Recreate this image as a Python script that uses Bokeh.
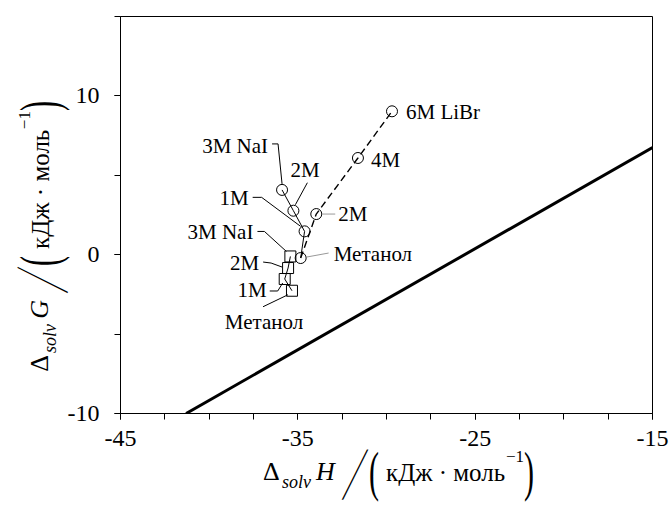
import numpy as np
from bokeh.plotting import figure
from bokeh.models import Label, FixedTicker, Range1d, Div
from bokeh.layouts import row, column
from bokeh.embed import file_html
from bokeh.resources import INLINE

# Solvation enthalpy (x) and Gibbs energy (y), kJ/mol
libr_names = ["Метанол", "2M", "4M", "6M LiBr"]
libr_dH = [-34.84, -33.96, -31.61, -29.69]
libr_dG = [-0.21, 2.56, 6.09, 9.03]

nai_names = ["Метанол", "1M", "2M", "3M NaI"]
nai_dH = [-34.84, -34.62, -35.25, -35.89]
nai_dG = [-0.21, 1.47, 2.77, 4.08]

sq_names = ["Метанол", "1M", "2M", "3M NaI"]
sq_dH = [-35.33, -35.74, -35.55, -35.42]
sq_dG = [-2.27, -1.53, -0.84, -0.11]

ref_dH = [-41.3, -15.0]
ref_dG = [-10.0, 6.75]

x_ticks = [-45, -35, -25, -15]
y_ticks = [-10, 0, 10]

XMIN, XMAX, YMIN, YMAX = -45, -15, -10, 15
W, H = 670, 506
L, T, FW, FH = 119, 16, 533, 397
YDIV_W = 64
P_W = W - YDIV_W
P_H = 461

SERIF = "Liberation Serif"

p = figure(width=P_W, height=P_H, output_backend="svg", toolbar_location=None,
           x_range=Range1d(XMIN, XMAX), y_range=Range1d(YMIN, YMAX),
           min_border_left=L - YDIV_W, min_border_right=P_W - (L - YDIV_W) - FW,
           min_border_top=T, min_border_bottom=P_H - T - FH, margin=0)
p.background_fill_color = "white"
p.border_fill_color = "white"
p.border_fill_alpha = 0
p.outline_line_color = "black"
p.outline_line_width = 1
p.grid.visible = False

p.xaxis.ticker = FixedTicker(ticks=x_ticks, minor_ticks=list(np.arange(-45, -14.9, 2.5)))
p.yaxis.ticker = FixedTicker(ticks=y_ticks, minor_ticks=[-10, -5, 0, 5, 10, 15])
p.xaxis.major_label_overrides = {t: str(t) for t in x_ticks}
p.yaxis.major_label_overrides = {t: str(t) for t in y_ticks}
for ax in (p.xaxis, p.yaxis):
    ax.major_tick_in = 0
    ax.major_tick_out = 6
    ax.minor_tick_in = 0
    ax.minor_tick_out = 6
    ax.axis_line_color = "black"
    ax.major_tick_line_color = "black"
    ax.minor_tick_line_color = "black"
    ax.major_label_text_font = SERIF
    ax.major_label_text_font_size = "24px"
    ax.major_label_text_color = "black"
p.xaxis.major_label_standoff = 11
p.yaxis.major_label_standoff = 15


def shift(x, y, ox, oy):
    return x + ox * (XMAX - XMIN) / FW, y - oy * (YMAX - YMIN) / FH


# reference line
p.line(ref_dH, ref_dG, line_color="black", line_width=3)

# LiBr series
p.line(libr_dH, libr_dG, line_color="black", line_width=1.4, line_dash="7 4")
# NaI series (circles)
p.line(nai_dH, nai_dG, line_color="black", line_width=1)
# square series
p.line(sq_dH, sq_dG, line_color="black", line_width=1)

p.scatter(libr_dH, libr_dG, marker="circle", size=11, fill_color="white",
          fill_alpha=0, line_color="black", line_width=1)
p.scatter(nai_dH[1:], nai_dG[1:], marker="circle", size=11, fill_color="white",
          fill_alpha=0, line_color="black", line_width=1)
p.scatter(sq_dH, sq_dG, marker="square", size=11, fill_color="white",
          fill_alpha=0, line_color="black", line_width=1)

# point annotations: (x, y, text, text offset px, align, leader offsets px, leader colour)
notes = [
    (nai_dH[3], nai_dG[3], nai_names[3], (-14, -44), "right",
     [(-10, -46), (-4, -46), (0, -6)], "black"),
    (nai_dH[2], nai_dG[2], nai_names[2], (-3, -41), "left",
     [(14, -28), (2, -6)], "black"),
    (nai_dH[1], nai_dG[1], nai_names[1], (-56, -33), "right",
     [(-52, -34), (-43, -34), (-4, -5)], "black"),
    (sq_dH[3], sq_dG[3], sq_names[3], (-37, -24), "right",
     [(-33, -25), (-26, -25), (-4, -5)], "black"),
    (sq_dH[2], sq_dG[2], sq_names[2], (-29, -5), "right",
     [(-25, -6), (-17, -5), (-6, -1)], "black"),
    (sq_dH[1], sq_dG[1], sq_names[1], (-18, 11), "right",
     [(-15, 12), (-7, 12), (-2, 4)], "black"),
    (sq_dH[0], sq_dG[0], sq_names[0], (-28, 31), "center",
     [(-29, 16), (-4, 4)], "black"),
    (libr_dH[0], libr_dG[0], libr_names[0], (33, -4), "left",
     [(6, -1), (28, -5)], "#999999"),
    (libr_dH[1], libr_dG[1], libr_names[1], (22, 0), "left",
     [(6, 0), (19, 0)], "#999999"),
    (libr_dH[2], libr_dG[2], libr_names[2], (13, 2), "left", [], None),
    (libr_dH[3], libr_dG[3], libr_names[3], (14, 1), "left", [], None),
]

lead_xs, lead_ys, lead_cols = [], [], []
for x, y, txt, (ox, oy), align, path, col in notes:
    p.add_layout(Label(x=x, y=y, x_offset=ox, y_offset=-oy, text=txt,
                       text_align=align, text_baseline="middle",
                       text_font=SERIF, text_font_size="21px", text_color="black"))
    if path:
        pts = [shift(x, y, a, b) for a, b in path]
        lead_xs.append([q[0] for q in pts])
        lead_ys.append([q[1] for q in pts])
        lead_cols.append(col)
p.multi_line(xs=lead_xs, ys=lead_ys, line_color=lead_cols, line_width=1)


# axis titles built from pieces:
# (text, advance px, baseline drop px, size px, style, extra transform)
def title_parts(letter):
    tall = "scale(1,1.85)"
    return [
        ("Δ", 0, 0, 26, "normal", ""),
        ("solv", 19, 7, 18, "italic", ""),
        (letter, 53, 0, 26, "italic", ""),
        ("/", 79, 18, 30, "normal", "skewX(-20deg) scale(1,2.5)"),
        ("(", 106, 9, 30, "normal", tall),
        ("кДж · моль", 123, 0, 25, "normal", ""),
        ("−1", 243, -19, 17, "normal", ""),
        (")", 261, 9, 30, "normal", tall),
    ]


def span(txt, bx, by, size, style, extra, rotate):
    # (bx, by): start of the baseline, relative to the div's corner
    b = 0.8375 * size
    tf = ("rotate(-90deg) " if rotate else "") + extra
    css = (f"position:absolute;left:{bx:.1f}px;top:{by - b:.1f}px;"
           f"font-size:{size}px;line-height:1;font-style:{style};white-space:nowrap;"
           f"transform-origin:0px {b:.1f}px;")
    if tf.strip():
        css += f"transform:{tf.strip()};"
    return f'<span style="{css}">{txt}</span>'


def title_div(spans, w, h):
    inner = "".join(spans)
    html = (f'<div style="position:relative;width:{w}px;height:{h}px;'
            f"font-family:'{SERIF}';color:black;overflow:visible;\">{inner}</div>")
    return Div(text=html, width=w, height=h, margin=0, styles={"overflow": "visible"})


# x title: lies below the plot, div origin at (YDIV_W, P_H)
x0, base = 263, 481
xspans = [span(t, x0 + a - YDIV_W, base + d - P_H, s, st, ex, False)
          for t, a, d, s, st, ex in title_parts("H")]
xdiv = title_div(xspans, P_W, H - P_H)

# y title: rotated, reads upwards, div origin at (0, 0)
ybase_x, y0 = 49, 372
yspans = [span(t, ybase_x + d, y0 - a, s, st, ex, True)
          for t, a, d, s, st, ex in title_parts("G")]
ydiv = title_div(yspans, YDIV_W, H)

layout = row(ydiv, column(p, xdiv, spacing=0), spacing=0, margin=0)
open("out.html", "w").write(file_html(layout, INLINE))
